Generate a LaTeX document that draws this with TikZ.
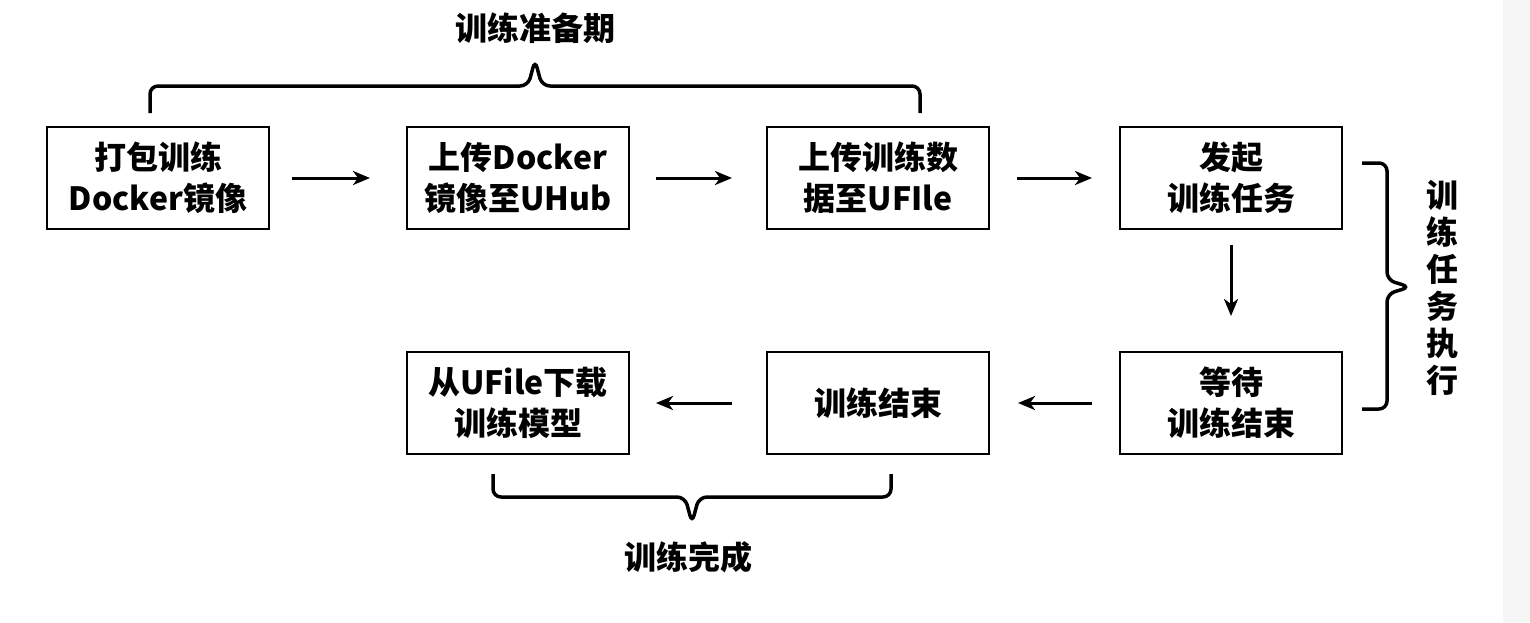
\documentclass[tikz,border=0pt]{standalone}
\usepackage{fontspec}
\setmainfont{Noto Sans CJK SC}
\usetikzlibrary{positioning, arrows.meta}

\begin{document}
\begin{tikzpicture}[x=1pt, y=-1pt,
    stepbox/.style={draw, line width=2pt, minimum width=222pt, minimum height=102pt,
      align=center, inner sep=0pt, font=\fontsize{32}{41}\selectfont\bfseries},
    arr/.style={-{Stealth[length=17pt, width=14pt, inset=5pt]}, line width=3pt},
    brace/.style={line width=3.5pt, rounded corners=8pt},
    label/.style={font=\fontsize{32}{37}\selectfont\bfseries, align=center, inner sep=0pt}]
  \useasboundingbox (0,0) rectangle (1530,622);
  \fill[gray!7] (1503,0) rectangle (1530,622);

  % top row
  \node[stepbox] (pack) at (158,178) {打包训练\\Docker镜像};
  \node[stepbox, right=136pt of pack] (uhub) {上传Docker\\镜像至UHub};
  \node[stepbox, right=136pt of uhub] (ufile) {上传训练数\\据至UFIle};
  \node[stepbox, right=129pt of ufile] (start) {发起\\训练任务};
  \draw[arr, shorten <=22pt, shorten >=36pt] (pack.east) -- (uhub.west);
  \draw[arr, shorten <=26pt, shorten >=34pt] (uhub.east) -- (ufile.west);
  \draw[arr, shorten <=27pt, shorten >=27pt] (ufile.east) -- (start.west);

  % bottom row
  \node[stepbox, below=121pt of start] (wait) {等待\\训练结束};
  \node[stepbox, left=129pt of wait] (done) {训练结束};
  \node[stepbox, left=136pt of done] (down) {从UFile下载\\训练模型};
  \draw[arr, shorten <=15pt, shorten >=35pt] (start.south) -- (wait.north);
  \draw[arr, shorten <=27pt, shorten >=28pt] (wait.west) -- (done.east);
  \draw[arr, shorten <=34pt, shorten >=26pt] (done.west) -- (down.east);

  % braces
  \draw[brace] (150,113) -- (150,86) -- (528,86) -- (535,60) -- (542,86) -- (920,86) -- (920,113);
  \node[label] (prep) at (535,28) {训练准备期};
  \draw[brace] (1362,163) -- (1387,163) -- (1387,280) -- (1410,287) -- (1387,294) -- (1387,409) -- (1362,409);
  \node[label] (run) at (1442,288) {训\\练\\任\\务\\执\\行};
  \draw[brace] (493,474) -- (493,497) -- (685,497) -- (692,523) -- (699,497) -- (891,497) -- (891,474);
  \node[label] (fin) at (688,557) {训练完成};
\end{tikzpicture}
\end{document}
